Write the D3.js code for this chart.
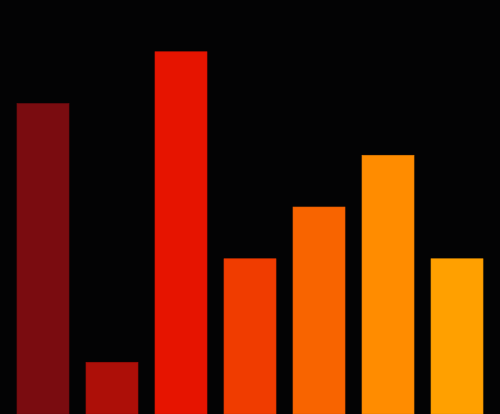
<!DOCTYPE html>
<html>
<head>
<meta charset="utf-8">
<script src="https://cdn.jsdelivr.net/npm/d3@7"></script>
<style>
  html, body { margin: 0; padding: 0; background: #030304; overflow: hidden; }
  svg { display: block; }
</style>
</head>
<body>
<svg id="chart" width="500" height="414"></svg>
<script>
const categories = ['A', 'B', 'C', 'D', 'E', 'F', 'G'];
const values = [6, 1, 7, 3, 4, 5, 3];
const colors = ['#7a0c10', '#ad0f08', '#e61400', '#f03c00', '#f86400', '#ff8c00', '#ffa000'];

const svg = d3.select('#chart');
const width = +svg.attr('width');
const height = +svg.attr('height');

svg.append('rect')
  .attr('width', width)
  .attr('height', height)
  .attr('fill', '#030304');

const x = d3.scaleBand()
  .domain(categories)
  .range([0, width])
  .padding(0.246);

const y = d3.scaleLinear()
  .domain([0, 8])
  .range([height, 0]);

svg.selectAll('.bar')
  .data(values)
  .join('rect')
  .attr('class', 'bar')
  .attr('x', (d, i) => x(categories[i]))
  .attr('y', d => y(d))
  .attr('width', x.bandwidth())
  .attr('height', d => height - y(d))
  .attr('fill', (d, i) => colors[i])
  .attr('stroke', (d, i) => d3.color(colors[i]).darker(0.3))
  .attr('stroke-width', 0.6);
</script>
</body>
</html>
